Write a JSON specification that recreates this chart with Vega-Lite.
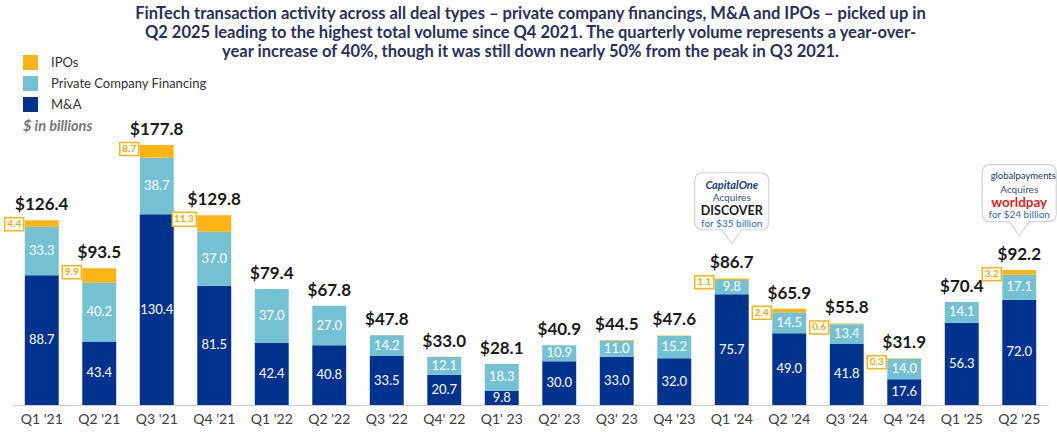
{
  "$schema": "https://vega.github.io/schema/vega-lite/v6.json",
  "width": 1035,
  "height": 343,
  "autosize": {"type": "none"},
  "padding": {"left": 13, "right": 9, "top": 62, "bottom": 27},
  "background": "white",
  "config": {"view": {"stroke": null}, "font": "Lato"},
  "title": {
    "text": [
      "FinTech transaction activity across all deal types – private company financings, M&A and IPOs – picked up in",
      "Q2 2025 leading to the highest total volume since Q4 2021. The quarterly volume represents a year-over-",
      "year increase of 40%, though it was still down nearly 50% from the peak in Q3 2021."
    ],
    "font": "Lato",
    "fontSize": 16.5,
    "fontWeight": "bold",
    "color": "#2b2f5c",
    "lineHeight": 19,
    "anchor": "middle",
    "offset": 5,
    "dy": 10
  },
  "datasets": {
    "quarters": [
      {"quarter": "Q1 '21", "M&A": 88.7, "Private Company Financing": 33.3, "IPOs": 4.4, "total": 126.4, "ipo_label": true},
      {"quarter": "Q2 '21", "M&A": 43.4, "Private Company Financing": 40.2, "IPOs": 9.9, "total": 93.5, "ipo_label": true},
      {"quarter": "Q3 '21", "M&A": 130.4, "Private Company Financing": 38.7, "IPOs": 8.7, "total": 177.8, "ipo_label": true},
      {"quarter": "Q4 '21", "M&A": 81.5, "Private Company Financing": 37.0, "IPOs": 11.3, "total": 129.8, "ipo_label": true},
      {"quarter": "Q1 '22", "M&A": 42.4, "Private Company Financing": 37.0, "IPOs": 0, "total": 79.4, "ipo_label": false},
      {"quarter": "Q2 '22", "M&A": 40.8, "Private Company Financing": 27.0, "IPOs": 0, "total": 67.8, "ipo_label": false},
      {"quarter": "Q3 '22", "M&A": 33.5, "Private Company Financing": 14.2, "IPOs": 0.1, "total": 47.8, "ipo_label": false},
      {"quarter": "Q4' 22", "M&A": 20.7, "Private Company Financing": 12.1, "IPOs": 0.2, "total": 33.0, "ipo_label": false},
      {"quarter": "Q1' 23", "M&A": 9.8, "Private Company Financing": 18.3, "IPOs": 0, "total": 28.1, "ipo_label": false},
      {"quarter": "Q2' 23", "M&A": 30.0, "Private Company Financing": 10.9, "IPOs": 0, "total": 40.9, "ipo_label": false},
      {"quarter": "Q3' 23", "M&A": 33.0, "Private Company Financing": 11.0, "IPOs": 0.5, "total": 44.5, "ipo_label": false},
      {"quarter": "Q4 '23", "M&A": 32.0, "Private Company Financing": 15.2, "IPOs": 0.4, "total": 47.6, "ipo_label": false},
      {"quarter": "Q1 '24", "M&A": 75.7, "Private Company Financing": 9.8, "IPOs": 1.1, "total": 86.7, "ipo_label": true,
       "deal_acquirer": "CapitalOne", "deal_target": "DISCOVER", "deal_price": "for $35 billion"},
      {"quarter": "Q2 '24", "M&A": 49.0, "Private Company Financing": 14.5, "IPOs": 2.4, "total": 65.9, "ipo_label": true},
      {"quarter": "Q3 '24", "M&A": 41.8, "Private Company Financing": 13.4, "IPOs": 0.6, "total": 55.8, "ipo_label": true},
      {"quarter": "Q4 '24", "M&A": 17.6, "Private Company Financing": 14.0, "IPOs": 0.3, "total": 31.9, "ipo_label": true},
      {"quarter": "Q1 '25", "M&A": 56.3, "Private Company Financing": 14.1, "IPOs": 0, "total": 70.4, "ipo_label": false},
      {"quarter": "Q2 '25", "M&A": 72.0, "Private Company Financing": 17.1, "IPOs": 3.2, "total": 92.2, "ipo_label": true,
       "deal_acquirer": "globalpayments", "deal_target": "worldpay", "deal_price": "for $24 billion"}
    ],
    "types": [
      {"type": "M&A", "rank": 1},
      {"type": "Private Company Financing", "rank": 2},
      {"type": "IPOs", "rank": 3}
    ]
  },
  "data": {"name": "quarters"},
  "encoding": {
    "x": {
      "field": "quarter",
      "type": "nominal",
      "sort": null,
      "scale": {"paddingInner": 0.41, "paddingOuter": 0.205},
      "axis": {
        "title": null,
        "labelAngle": 0,
        "labelFontSize": 14,
        "labelColor": "#3d3d3d",
        "labelPadding": 7,
        "ticks": false,
        "domainColor": "#cccccc",
        "domainWidth": 1.2,
        "grid": false
      }
    }
  },
  "layer": [
    {
      "transform": [
        {"fold": ["M&A", "Private Company Financing", "IPOs"], "as": ["type", "value"]},
        {"lookup": "type", "from": {"data": {"name": "types"}, "key": "type", "fields": ["rank"]}}
      ],
      "mark": {"type": "bar"},
      "encoding": {
        "y": {
          "field": "value",
          "type": "quantitative",
          "stack": "zero",
          "scale": {"domain": [0, 234.6], "nice": false, "zero": true},
          "axis": null
        },
        "color": {
          "field": "type",
          "type": "nominal",
          "scale": {
            "domain": ["IPOs", "Private Company Financing", "M&A"],
            "range": ["#FDB515", "#74C1D4", "#00338D"]
          },
          "legend": {
            "orient": "none",
            "legendX": 10,
            "legendY": -7,
            "direction": "vertical",
            "title": "$ in billions",
            "titleOrient": "bottom",
            "titleAnchor": "start",
            "titleFontStyle": "italic",
            "titleFontWeight": "bold",
            "titleFontSize": 14.5,
            "titleColor": "#777777",
            "titlePadding": 8,
            "symbolType": "square",
            "symbolSize": 225,
            "symbolStrokeWidth": 0,
            "symbolOpacity": 1,
            "labelFontSize": 13,
            "labelColor": "#333333",
            "labelOffset": 13,
            "rowPadding": 6
          }
        },
        "order": {"field": "rank", "type": "quantitative"}
      }
    },
    {
      "transform": [
        {"fold": ["M&A", "Private Company Financing", "IPOs"], "as": ["type", "value"]},
        {"lookup": "type", "from": {"data": {"name": "types"}, "key": "type", "fields": ["rank"]}},
        {"filter": "datum.type !== 'IPOs'"}
      ],
      "mark": {"type": "text", "color": "white", "fontSize": 13, "baseline": "middle", "align": "center"},
      "encoding": {
        "y": {"field": "value", "type": "quantitative", "stack": "zero", "bandPosition": 0.5},
        "detail": {"field": "type"},
        "order": {"field": "rank", "type": "quantitative"},
        "text": {"field": "value", "type": "quantitative", "format": ".1f"}
      }
    },
    {
      "mark": {"type": "text", "fontSize": 17, "fontWeight": "bold", "color": "#1a1a1a", "baseline": "alphabetic", "align": "center", "dy": -10},
      "encoding": {
        "y": {"field": "total", "type": "quantitative"},
        "text": {"field": "total", "type": "quantitative", "format": "$.1f"}
      }
    },
    {
      "transform": [{"filter": "datum.ipo_label"}],
      "mark": {"type": "point", "filled": true, "fill": "white", "stroke": "#FDB515", "strokeWidth": 1.5, "opacity": 1, "size": 100, "xOffset": -18, "yOffset": 4},
      "encoding": {
        "y": {"field": "total", "type": "quantitative"},
        "shape": {
          "condition": {"test": "datum['IPOs'] >= 10", "value": "M-4.8,-1.4H0V1.4H-4.8Z"},
          "value": "M-3.8,-1.3H0V1.3H-3.8Z"
        }
      }
    },
    {
      "transform": [{"filter": "datum.ipo_label"}],
      "mark": {"type": "text", "fontSize": 10, "fontWeight": "bold", "color": "#F5A800", "align": "right", "baseline": "middle", "xOffset": -20.5, "yOffset": 4},
      "encoding": {
        "y": {"field": "total", "type": "quantitative"},
        "text": {"field": "IPOs", "type": "quantitative", "format": ".1f"}
      }
    },
    {
      "transform": [{"filter": "datum.deal_target"}],
      "mark": {"type": "point", "filled": true, "fill": "white", "stroke": "#d4d4d4", "strokeWidth": 1.2, "opacity": 1, "size": 5476, "yOffset": -77},
      "encoding": {
        "y": {"field": "total", "type": "quantitative"},
        "shape": {"value": "M-0.78,-0.77H0.78Q1,-0.77 1,-0.55V0.55Q1,0.77 0.78,0.77H0.27L0,1.15L-0.27,0.77H-0.78Q-1,0.77 -1,0.55V-0.55Q-1,-0.77 -0.78,-0.77Z"}
      }
    },
    {
      "transform": [{"filter": "datum.deal_target === 'DISCOVER'"}],
      "mark": {"type": "text", "fontSize": 11, "fontWeight": "bold", "fontStyle": "italic", "color": "#16407c", "align": "center", "baseline": "middle", "yOffset": -92},
      "encoding": {
        "y": {"field": "total", "type": "quantitative"},
        "text": {"field": "deal_acquirer"}
      }
    },
    {
      "transform": [{"filter": "datum.deal_target === 'worldpay'"}],
      "mark": {"type": "text", "fontSize": 9.5, "color": "#1b3766", "align": "center", "baseline": "middle", "yOffset": -94, "dx": 4},
      "encoding": {
        "y": {"field": "total", "type": "quantitative"},
        "text": {"field": "deal_acquirer"}
      }
    },
    {
      "transform": [{"filter": "datum.deal_target"}],
      "mark": {"type": "text", "fontSize": 10, "color": "#34527e", "align": "center", "baseline": "middle", "yOffset": -80.5},
      "encoding": {
        "y": {"field": "total", "type": "quantitative"},
        "text": {"value": "Acquires"}
      }
    },
    {
      "transform": [{"filter": "datum.deal_target"}],
      "mark": {"type": "text", "fontWeight": "bold", "align": "center", "baseline": "middle", "yOffset": -67.5},
      "encoding": {
        "y": {"field": "total", "type": "quantitative"},
        "text": {"field": "deal_target"},
        "size": {"condition": {"test": "datum.deal_target === 'worldpay'", "value": 13.5}, "value": 12.5},
        "color": {"condition": {"test": "datum.deal_target === 'worldpay'", "value": "#e31b23"}, "value": "#1a1a1a"}
      }
    },
    {
      "transform": [{"filter": "datum.deal_target"}],
      "mark": {"type": "text", "fontSize": 10, "color": "#2f6db5", "align": "center", "baseline": "middle", "yOffset": -54.7},
      "encoding": {
        "y": {"field": "total", "type": "quantitative"},
        "text": {"field": "deal_price"}
      }
    }
  ]
}
